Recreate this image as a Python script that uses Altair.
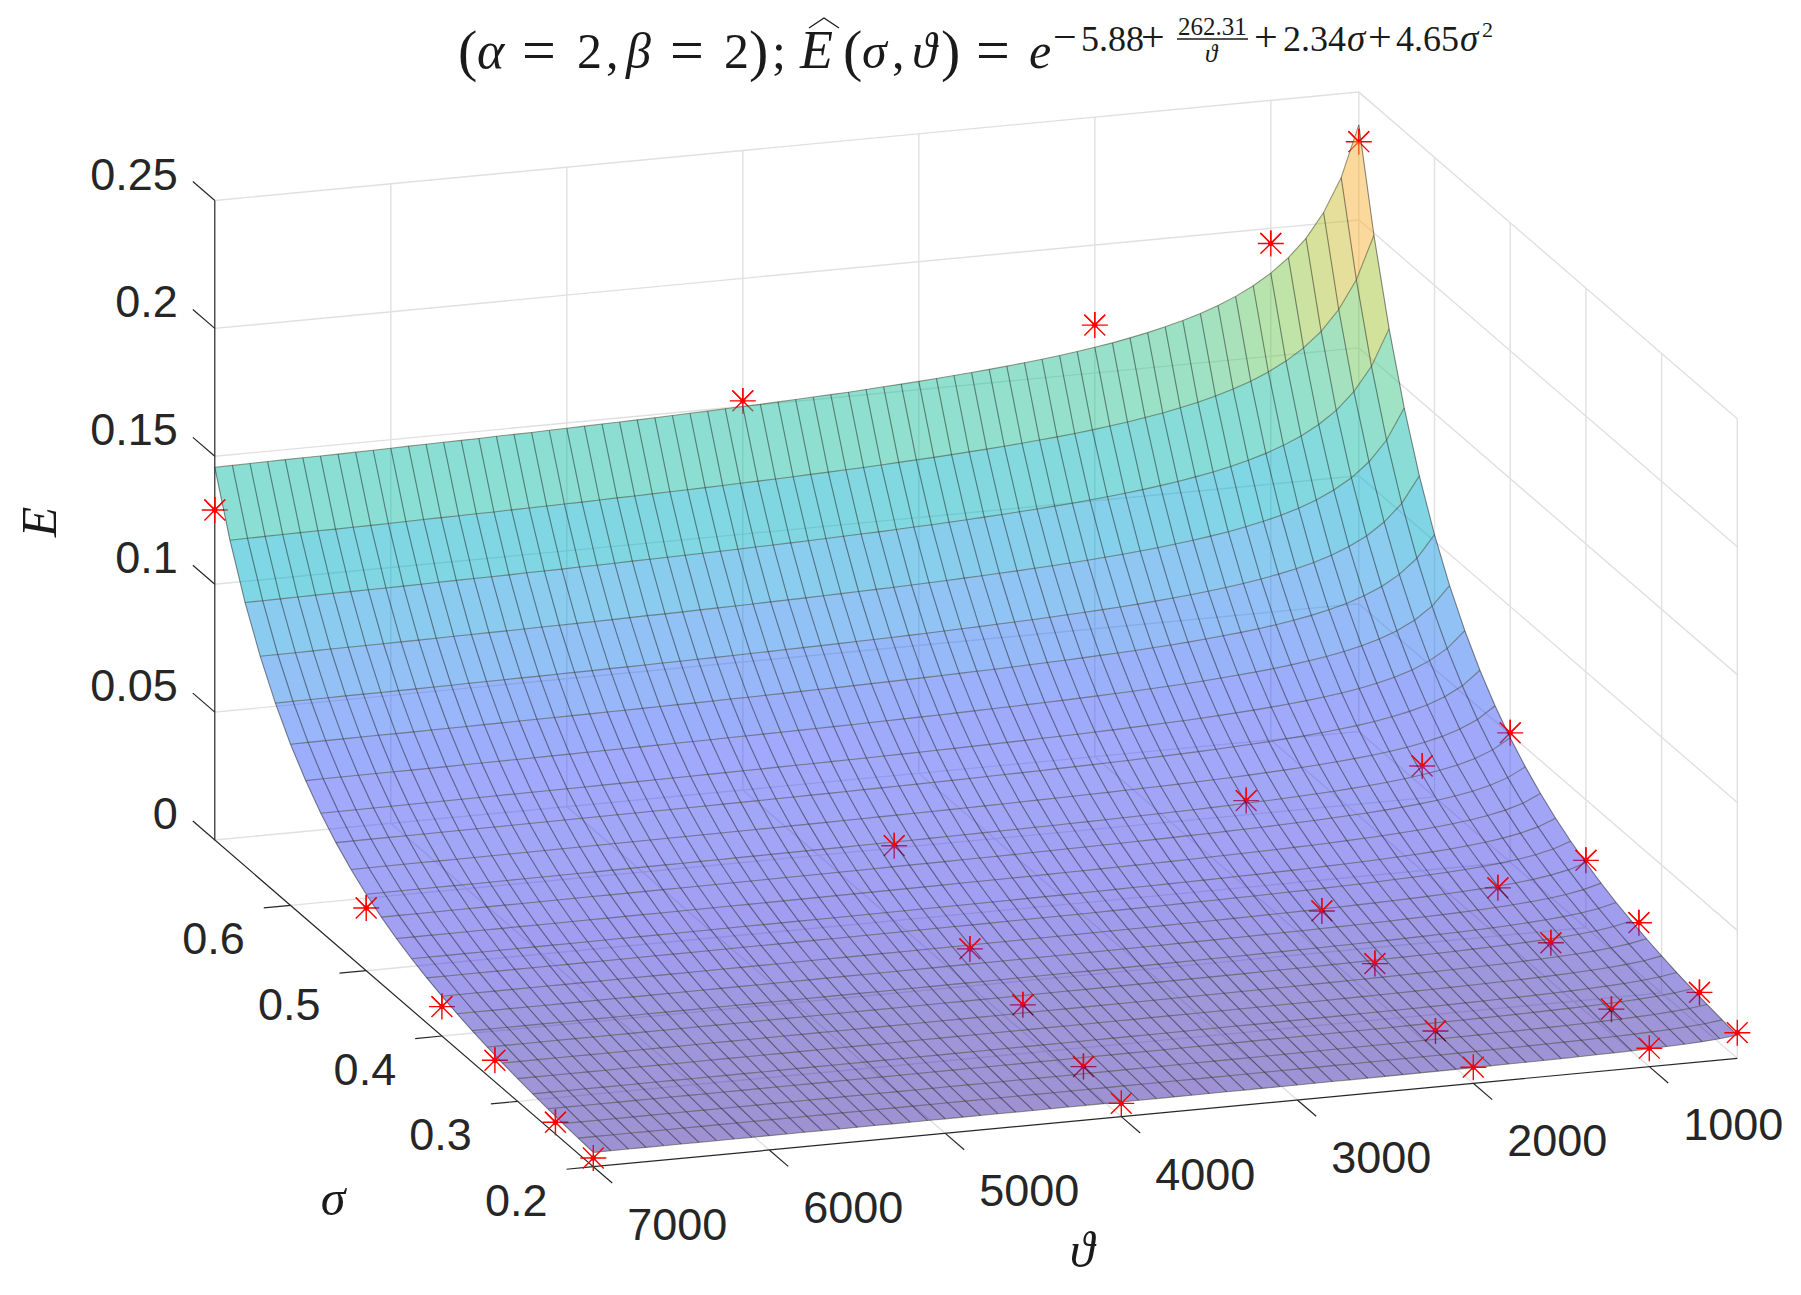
import altair as alt
import pandas as pd

# ---- values -----------------------------------------------------------------
# Surface: mesh lines, E along the back edge (sigma=0.7) and E along the left edge (theta=7000)
surface_theta = [500, 600, 700, 800, 900, 1000, 1100, 1200, 1300, 1400, 1500, 1600, 1700, 1800, 1900,
                 2000, 2100, 2200, 2300, 2400, 2500, 2600, 2700, 2800, 2900, 3000, 3100, 3200, 3300,
                 3400, 3500, 3600, 3700, 3800, 3900, 4000, 4100, 4200, 4300, 4400, 4500, 4600, 4700,
                 4800, 4900, 5000, 5100, 5200, 5300, 5400, 5500, 5600, 5700, 5800, 5900, 6000, 6100,
                 6200, 6300, 6400, 6500, 6600, 6700, 6800, 6900, 7000]
back_edge_E = [.2372, .2173, .2042, .1948, .1879, .1825, .1782, .1747, .1718, .1693, .1672, .1654, .1638,
               .1624, .1611, .1600, .1590, .1581, .1573, .1566, .1559, .1553, .1547, .1542, .1537, .1532,
               .1528, .1524, .1520, .1516, .1513, .1510, .1507, .1504, .1501, .1499, .1497, .1494, .1492,
               .1490, .1488, .1486, .1484, .1483, .1481, .1479, .1478, .1476, .1475, .1474, .1472, .1471,
               .1470, .1469, .1468, .1466, .1465, .1464, .1463, .1462, .1462, .1461, .1460, .1459, .1458,
               .1457]
surface_sigma = [.20, .22, .24, .26, .28, .30, .32, .34, .36, .38, .40, .42, .44, .46, .48, .50, .52, .54,
                 .56, .58, .60, .62, .64, .66, .68, .70]
left_edge_E = [.00558, .00608, .00665, .00730, .00805, .00890, .00988, .01101, .01231, .01382, .01557,
               .01761, .01999, .02277, .02605, .02990, .03445, .03984, .04624, .05388, .06300, .07396,
               .08713, .10304, .12232, .14570]

# Measured points (red asterisks)
star_theta = [7000, 4000, 2000, 1000, 500]
star_sigma = [.70, .50, .40, .33, .25, .20]
star_E = [[.1290, .1521, .1687, .1941, .2306],
          [.0245, .0293, .0339, .0409, .0506],
          [.0115, .0145, .0163, .0188, .0263],
          [.0084, .0105, .0136, .0152, .0198],
          [.0046, .0068, .0077, .0097, .0130],
          [.0034, .0052, .0063, .0072, .0100]]

theta_ticks = [7000, 6000, 5000, 4000, 3000, 2000, 1000]
sigma_ticks = [.2, .3, .4, .5, .6]
sigma_grid = [.2, .3, .4, .5, .6, .7]
E_ticks = [0, .05, .1, .15, .2, .25]
E_labels = ["0", "0.05", "0.1", "0.15", "0.2", "0.25"]

colour_E = [.0056, .0100, .0150, .0200, .0345, .0398, .0462, .0539, .0630, .0740, .0871, .1030, .1223,
            .1418, .1550, .1677, .1824, .1991, .2372]
colour_hex = ["#3e26a8", "#4030b8", "#4137d5", "#443ee4", "#464ef0", "#4650f4", "#4353f7", "#395bf7",
              "#316df3", "#2783ed", "#1997e1", "#00adc9", "#15bdaa", "#3fc589", "#78c855", "#a7c537",
              "#cdbf39", "#f7b33b", "#f9fb14"]

# ---- orthographic view of the 3-D axes box -----------------------------------
TH0, TH1, SG0, SG1, E1 = 7000, 500, .2, .7, .25


def view(th, sg, e):
    return (593.3 - 8 + (7000 - th) * .176 - (sg - .2) * 757,
            1166.7 - 8 - (7000 - th) * .016677 - (sg - .2) * 653.4 - e * 2558)


PROJ = dict(type="identity", scale=1, translate=[0, 0])


def lines(polys, colour, width, op=1.0):
    feats = [{"type": "Feature", "properties": {}, "geometry": {"type": "LineString", "coordinates": [list(p) for p in poly]}}
             for poly in polys]
    return alt.Chart(alt.Data(values=feats)).mark_geoshape(
        filled=False, stroke=colour, strokeWidth=width, strokeOpacity=op).project(**PROJ)


def text(rows, size, font="Liberation Serif", style="normal", align="left", baseline="alphabetic", angle=0, colour="#1a1a1a"):
    df = pd.DataFrame(rows, columns=["t", "x", "y"])
    return alt.Chart(df).mark_text(font=font, fontSize=size, fontStyle=style, align=align, baseline=baseline,
                                   angle=angle, color=colour).encode(
        longitude="x:Q", latitude="y:Q", text="t:N").project(**PROJ)


layers = []

# ---- grid on walls and floor ---------------------------------------------------
grid = []
for e in E_ticks:
    grid.append([view(TH0, SG1, e), view(TH1, SG1, e), view(TH1, SG0, e)])
for th in theta_ticks[1:]:
    grid.append([view(th, SG0, 0), view(th, SG1, 0), view(th, SG1, E1)])
for sg in sigma_grid[1:-1]:
    grid.append([view(TH0, sg, 0), view(TH1, sg, 0), view(TH1, sg, E1)])
grid.append([view(TH1, SG1, 0), view(TH1, SG1, E1)])
grid.append([view(TH1, SG0, 0), view(TH1, SG0, E1)])
layers.append(lines(grid, "#e0e0e0", 1.4))

# ---- axis lines and ticks ------------------------------------------------------
axis = [[view(TH0, SG1, E1), view(TH0, SG1, 0), view(TH0, SG0, 0), view(TH1, SG0, 0)]]
for e in E_ticks:
    axis.append([view(TH0, SG1, e), view(TH0, SG1 + .029, e)])
for sg in sigma_ticks:
    axis.append([view(TH0, sg, 0), view(TH0 + 152, sg, 0)])
for th in theta_ticks:
    axis.append([view(th, SG0, 0), view(th, SG0 - .025, 0)])
layers.append(lines(axis, "#262626", 1.2))

# ---- stars ---------------------------------------------------------------------
STAR_FULL = "M-1,0L1,0M0,-1L0,1M-.8,-.8L.8,.8M-.8,.8L.8,-.8"
STAR_TOP = "M-.8,-.8L0,0L.8,-.8M0,-1L0,0"
rows = []
for i, sg in enumerate(star_sigma):
    for j, th in enumerate(star_theta):
        x, y = view(th, sg, star_E[i][j])
        rows.append({"x": x, "y": y, "sg": sg})
stars = pd.DataFrame(rows)
back = stars[stars.sg > .2]
front = stars[stars.sg <= .2]


def star(df, shape):
    return alt.Chart(df).mark_point(shape=shape, size=676, filled=False, stroke="#ff0000", strokeWidth=1.4,
                                    opacity=1).encode(longitude="x:Q", latitude="y:Q").project(**PROJ)


def dot(df):
    return alt.Chart(df).mark_circle(size=28, color="#ff0000", opacity=1).encode(
        longitude="x:Q", latitude="y:Q").project(**PROJ)


layers += [star(back, STAR_FULL), dot(back)]

# ---- surface --------------------------------------------------------------------
corner = back_edge_E[-1]
grid_E = [[l * b / corner for b in back_edge_E] for l in left_edge_E]
cells = []
for i in range(len(surface_sigma) - 2, -1, -1):
    for j in range(len(surface_theta) - 1):
        ring = [(i, j), (i + 1, j), (i + 1, j + 1), (i, j + 1), (i, j)]
        coords = [list(view(surface_theta[b], surface_sigma[a], grid_E[a][b])) for a, b in ring]
        cells.append({"type": "Feature", "properties": {"E": grid_E[i][j]},
                      "geometry": {"type": "Polygon", "coordinates": [coords]}})
layers.append(alt.Chart(alt.Data(values=cells)).mark_geoshape(fillOpacity=.5, strokeWidth=0).encode(
    color=alt.Color("properties.E:Q", legend=None,
                    scale=alt.Scale(domain=colour_E, range=colour_hex, interpolate="rgb"))).project(**PROJ))

sigma_lines = [[view(th, sg, grid_E[a][b]) for a, sg in enumerate(surface_sigma)] for b, th in enumerate(surface_theta)]
theta_lines = [[view(th, sg, grid_E[a][b]) for b, th in enumerate(surface_theta)] for a, sg in enumerate(surface_sigma)]
layers.append(lines(sigma_lines, "#000000", 1.1, .45))
layers.append(lines(theta_lines, "#3a3a20", 1.1, .5))

layers += [star(back, STAR_TOP), star(front, STAR_FULL), dot(front)]

# ---- tick labels ----------------------------------------------------------------
SANS = "Liberation Sans"
layers.append(text([[l, view(TH0, SG1, e)[0] - 37, view(TH0, SG1, e)[1] - 25] for l, e in zip(E_labels, E_ticks)],
                   45, SANS, align="right", baseline="middle", colour="#262626"))
layers.append(text([[f"{s:.1f}", view(TH0, s, 0)[0] - 77, view(TH0, s, 0)[1] + 35] for s in sigma_ticks],
                   45, SANS, align="center", baseline="middle", colour="#262626"))
layers.append(text([[str(t), view(t, SG0, 0)[0] + 84, view(t, SG0, 0)[1] + 59] for t in theta_ticks],
                   45, SANS, align="center", baseline="middle", colour="#262626"))

# ---- axis titles -----------------------------------------------------------------
layers.append(text([["σ", 333 - 8, 1200 - 8]], 50, style="italic", align="center", baseline="middle"))
layers.append(text([["ϑ", 1082 - 8, 1252 - 8]], 50, style="italic", align="center", baseline="middle"))
layers.append(text([["E", 41 - 8, 522 - 8]], 50, style="italic", align="center", baseline="middle", angle=270))

# ---- title: (text, left x, baseline y, size, style) ------------------------------------
title_parts = [
    ("(", 458, 70, 58, "normal"), ("α", 477, 68, 52, "italic"), ("=", 522, 70, 60, "normal"),
    ("2", 577, 68, 50, "normal"), (",", 606, 68, 50, "normal"), ("β", 626, 68, 50, "italic"),
    ("=", 670, 70, 60, "normal"), ("2", 724, 68, 50, "normal"), (")", 749, 70, 58, "normal"),
    (";", 772, 68, 50, "normal"), ("E", 800, 68, 54, "italic"), ("(", 843, 70, 58, "normal"),
    ("σ", 862, 68, 50, "italic"), (",", 892, 68, 50, "normal"), ("ϑ", 912, 68, 50, "italic"),
    (")", 941, 70, 58, "normal"), ("=", 976, 70, 60, "normal"), ("e", 1029, 68, 50, "italic"),
    ("−", 1053, 51, 42, "normal"), ("5.88", 1081, 51, 36, "normal"), ("+", 1141, 51, 42, "normal"),
    ("262.31", 1178, 35, 25, "normal"), ("ϑ", 1205, 62, 25, "italic"),
    ("+", 1254, 51, 42, "normal"), ("2.34", 1283, 51, 36, "normal"), ("σ", 1347, 51, 37, "italic"),
    ("+", 1368, 51, 42, "normal"), ("4.65", 1396, 51, 36, "normal"), ("σ", 1460, 51, 37, "italic"),
    ("2", 1482, 37, 22, "normal"),
]
for t, x, y, size, style in title_parts:
    layers.append(text([[t, x - 8, y - 8]], size, style=style))
layers.append(lines([[(1177 - 8, 39 - 8), (1248 - 8, 39 - 8)]], "#1a1a1a", 1.4))
layers.append(lines([[(809 - 8, 28 - 8), (824 - 8, 18 - 8), (839 - 8, 28 - 8)]], "#1a1a1a", 1.3))

chart = alt.layer(*layers).properties(
    width=1785, height=1279, padding=0, background="white",
    autosize=alt.AutoSizeParams(type="none")
).configure_view(stroke=None)

chart.save("out.html", embed_options={"renderer": "svg", "actions": False})
